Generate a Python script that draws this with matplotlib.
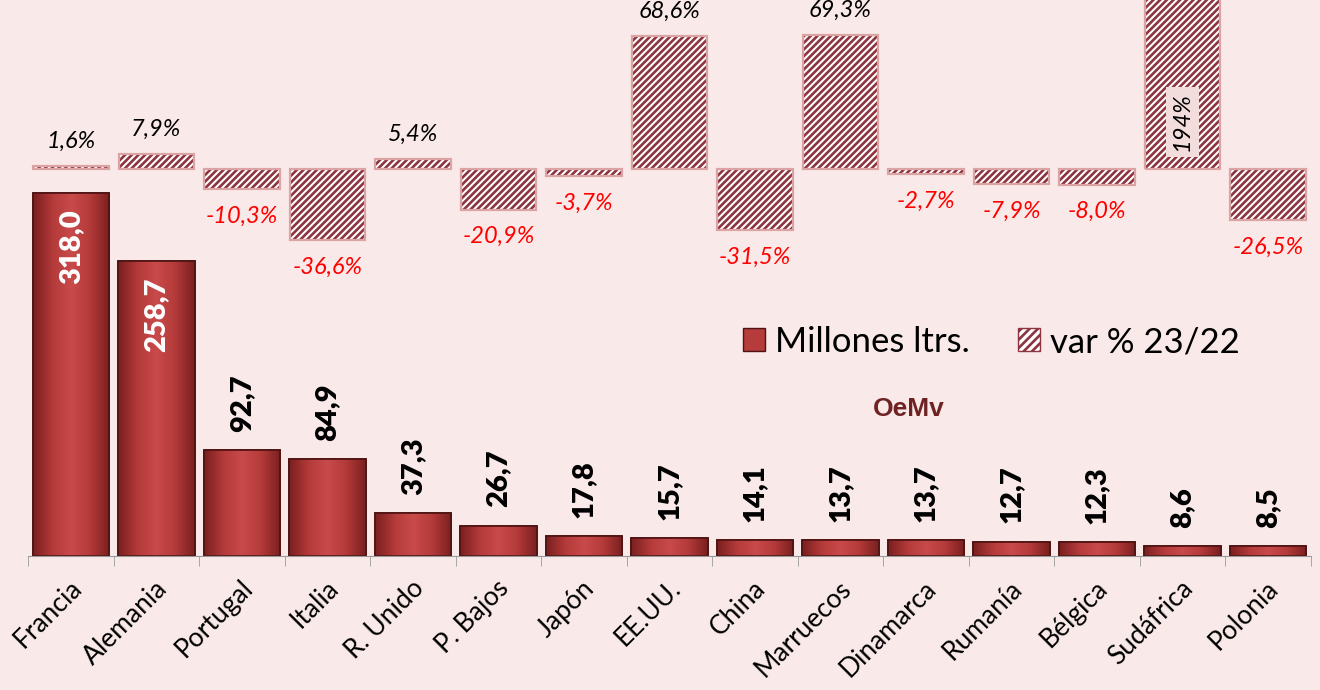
import matplotlib
matplotlib.use('Agg')
import matplotlib.pyplot as plt
from matplotlib.patches import Patch
from matplotlib.colors import LinearSegmentedColormap
import matplotlib.transforms as mtransforms
import numpy as np

countries = ['Francia', 'Alemania', 'Portugal', 'Italia', 'R. Unido', 'P. Bajos', 'Japón',
             'EE.UU.', 'China', 'Marruecos', 'Dinamarca', 'Rumanía', 'Bélgica', 'Sudáfrica', 'Polonia']
volumes = [318.0, 258.7, 92.7, 84.9, 37.3, 26.7, 17.8, 15.7, 14.1, 13.7, 13.7, 12.7, 12.3, 8.6, 8.5]
var_pct = [1.6, 7.9, -10.3, -36.6, 5.4, -20.9, -3.7, 68.6, -31.5, 69.3, -2.7, -7.9, -8.0, 194.0, -26.5]

BG = '#f9eae9'
BAR = '#b63b3b'
BAR_EDGE = '#4e1212'
HATCH = '#8c3440'
HATCH_EDGE = '#dba3a3'

plt.rcParams['font.family'] = ['Lato', 'DejaVu Sans']
plt.rcParams['hatch.linewidth'] = 1.9

W, H = 1320, 690
fig = plt.figure(figsize=(W / 100, H / 100), dpi=100, facecolor=BG)


def px_lims(zero_px, px_per_unit):
    # y limits so that the value 0 lands on pixel row zero_px
    return (-(H - zero_px) / px_per_unit, zero_px / px_per_unit)


def fmt(v):
    return f'{v:.1f}'.replace('.', ',')


x = np.arange(len(countries))
xlim = (-71 / 85.5, (W - 71) / 85.5)

# volumes (bottom)
ax = fig.add_axes([0, 0, 1, 1])
ax.set_facecolor('none')
ax.set_xlim(*xlim)
ax.set_ylim(*px_lims(556, 1.1415))
bars = ax.bar(x, volumes, width=0.9, color=BAR, edgecolor=BAR_EDGE, linewidth=1.2, zorder=2)

# soft horizontal shading inside each bar
shade = LinearSegmentedColormap.from_list('shade', ['#7a2020', '#b43a3a', '#c94a4a', '#b43a3a', '#7a2020'])
grad = np.linspace(0, 1, 64).reshape(1, -1)
for b in bars:
    im = ax.imshow(grad, cmap=shade, aspect='auto', zorder=2.1,
                   extent=(b.get_x(), b.get_x() + b.get_width(), 0, b.get_height()))
    im.set_clip_path(b)
ax.bar(x, volumes, width=0.9, fill=False, edgecolor=BAR_EDGE, linewidth=1.2, zorder=2.2)
ax.set_xlim(*xlim)
ax.set_ylim(*px_lims(556, 1.1415))

for xi, v in zip(x, volumes):
    if v > 200:
        ax.annotate(fmt(v), (xi, v), xytext=(0, -12), textcoords='offset points',
                    rotation=90, ha='center', va='top', fontsize=21, fontweight='heavy',
                    color='white', zorder=3)
    else:
        ax.annotate(fmt(v), (xi, v), xytext=(0, 13), textcoords='offset points',
                    rotation=90, ha='center', va='bottom', fontsize=21, fontweight='heavy',
                    color='black', zorder=3)

for s in ['top', 'right', 'left']:
    ax.spines[s].set_visible(False)
ax.spines['bottom'].set_position(('data', 0))
ax.spines['bottom'].set_bounds(-0.5, len(countries) - 0.5)
ax.spines['bottom'].set_color('#999999')
ax.set_yticks([])
ax.set_xticks(x, countries, rotation=45, ha='right', rotation_mode='anchor', fontsize=19)
ax.set_xticks(np.arange(-0.5, len(countries)), minor=True)
ax.tick_params(axis='x', which='major', length=0, pad=14)
ax.tick_params(axis='x', which='minor', length=7, color='#999999', direction='out')
shift = mtransforms.ScaledTranslation(-0.02, 0, fig.dpi_scale_trans)
for lab in ax.get_xticklabels():
    lab.set_transform(lab.get_transform() + shift)

# variation (top)
ax2 = fig.add_axes([0, 0, 1, 1])
ax2.set_facecolor('none')
ax2.set_xlim(*xlim)
ax2.set_ylim(*px_lims(169, 1.94))
ax2.axis('off')
ax2.bar(x, var_pct, width=0.88, color='white', edgecolor=HATCH, hatch='/////', linewidth=0)
ax2.bar(x, var_pct, width=0.88, fill=False, edgecolor=HATCH_EDGE, linewidth=1.6)
top = ax2.get_ylim()[1]
for xi, v in zip(x, var_pct):
    if v > top:
        ax2.text(xi, top * 0.28, f'{v:.0f}%', rotation=90, ha='center', va='center',
                 fontsize=17, style='italic', color='black',
                 bbox=dict(facecolor='#f3dcdc', edgecolor='none', pad=4))
    elif v >= 0:
        ax2.annotate(fmt(v) + '%', (xi, v), xytext=(0, 10), textcoords='offset points',
                     ha='center', va='bottom', fontsize=17, style='italic', color='black')
    else:
        ax2.annotate(fmt(v) + '%', (xi, v), xytext=(0, -12), textcoords='offset points',
                     ha='center', va='top', fontsize=17, style='italic', color='#ff0000')

handles = [Patch(facecolor=BAR, edgecolor=BAR_EDGE, label='Millones ltrs.'),
           Patch(facecolor='white', edgecolor=HATCH, hatch='////', label='var % 23/22')]
fig.legend(handles=handles, loc='center left', bbox_to_anchor=(743 / W, 1 - 342 / H),
           ncol=2, frameon=False, fontsize=25, handlelength=0.63, handleheight=0.63,
           handletextpad=0.29, columnspacing=1.4, borderpad=0, borderaxespad=0)

fig.text(909 / W, 1 - 409 / H, 'OeMv', ha='center', va='center', fontsize=19,
         fontweight='bold', color='#6e2222', family='Liberation Sans')

fig.savefig('out.png', dpi=100, facecolor=BG)
